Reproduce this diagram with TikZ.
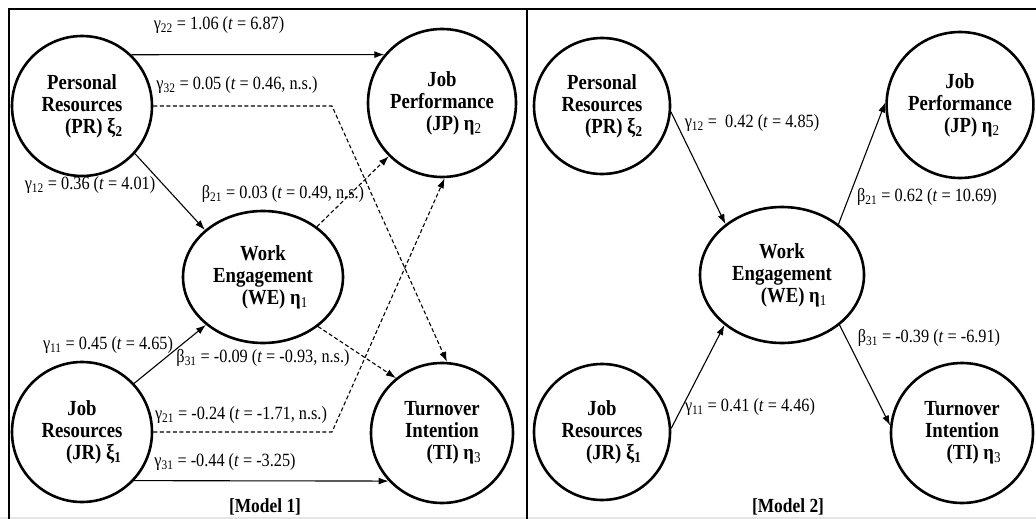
\documentclass[tikz,border=0pt]{standalone}
\usepackage{fontspec}
\setmainfont{Liberation Serif}[FakeStretch=0.87]
\usetikzlibrary{shapes.geometric,arrows.meta}
\tikzset{
  lat/.style={ellipse, draw, line width=2.6pt, inner sep=0pt, align=center,
    font=\bfseries\fontsize{21.5}{22}\selectfont},
  lab/.style={inner sep=0pt, font=\fontsize{18.7}{20}\selectfont},
  mlab/.style={inner sep=0pt, font=\bfseries\fontsize{20}{22}\selectfont},
  sarr/.style={line width=1.1pt, -{Latex[length=10pt,width=7pt]}},
  darr/.style={sarr, dash pattern=on 4pt off 2.5pt},
  frameline/.style={line width=1.6pt}
}
\newcommand{\tsub}[1]{\textsubscript{#1}}
\begin{document}
\begin{tikzpicture}[x=1pt,y=-1pt]
\fill[white] (0,0) rectangle (1036,519);
\useasboundingbox (0,0) rectangle (1036,519);
\fill[black!10] (0,517) rectangle (1036,519);
\draw[frameline] (9,519) -- (9,9) -- (1036,9);
\draw[frameline] (527,9) -- (527,519);

% ---------- Model 1 ----------
\node[lat, minimum width=140pt, minimum height=140pt] (PR) at (82,106)
  {Personal\\Resources\\\hspace*{1.1em}(PR) ξ\tsub{2}};
\node[lat, minimum width=148pt, minimum height=148pt] (JP) at (442,103)
  {Job\\Performance\\\hspace*{1.1em}(JP) η\tsub{\mdseries 2}};
\node[lat, minimum width=160pt, minimum height=132pt] (WE) at (263,277)
  {Work\\Engagement\\\hspace*{1.1em}(WE) η\tsub{\mdseries 1}};
\node[lat, minimum width=140pt, minimum height=140pt] (JR) at (82,432)
  {Job\\Resources\\\hspace*{1.1em}(JR) ξ\tsub{1}};
\node[lat, minimum width=142pt, minimum height=140pt] (TI) at (442,433)
  {Turnover\\Intention\\\hspace*{1.1em}(TI) η\tsub{\mdseries 3}};

\coordinate (k1) at (332,106);
\coordinate (k2) at (332,432);

\draw[sarr] (PR.46) -- (JP.140);
\draw[darr] (PR.east) -- (k1) -- (TI.86);
\draw[sarr] (PR.-42) -- (WE.141);
\draw[darr] (WE.43) -- (JP.225);
\draw[darr] (JR.east) -- (k2) -- (JP.-88);
\draw[sarr] (JR.43) -- (WE.220);
\draw[darr] (WE.-42) -- (TI.130);
\draw[sarr] (JR.-43) -- (TI.222);

\node[lab] (l1) at (219,25) {γ\tsub{22} = 1.06 (\textit{t} = 6.87)};
\node[lab] (l2) at (237,85) {γ\tsub{32} = 0.05 (\textit{t} = 0.46, n.s.)};
\node[lab] (l3) at (90,185) {γ\tsub{12} = 0.36 (\textit{t} = 4.01)};
\node[lab] (l4) at (283,194) {β\tsub{21} = 0.03 (\textit{t} = 0.49, n.s.)};
\node[lab] (l5) at (108,345) {γ\tsub{11} = 0.45 (\textit{t} = 4.65)};
\node[lab] (l6) at (263,358) {β\tsub{31} = -0.09 (\textit{t} = -0.93, n.s.)};
\node[lab] (l7) at (241,415) {γ\tsub{21} = -0.24 (\textit{t} = -1.71, n.s.)};
\node[lab] (l8) at (225,462) {γ\tsub{31} = -0.44 (\textit{t} = -3.25)};
\node[mlab] (m1) at (265,507) {[Model 1]};

% ---------- Model 2 ----------
\node[lat, minimum width=136pt, minimum height=136pt] (PRb) at (602,106)
  {Personal\\Resources\\\hspace*{1.1em}(PR) ξ\tsub{2}};
\node[lat, minimum width=146pt, minimum height=146pt] (JPb) at (960,105)
  {Job\\Performance\\\hspace*{1.1em}(JP) η\tsub{\mdseries 2}};
\node[lat, minimum width=164pt, minimum height=136pt] (WEb) at (782,275)
  {Work\\Engagement\\\hspace*{1.1em}(WE) η\tsub{\mdseries 1}};
\node[lat, minimum width=136pt, minimum height=136pt] (JRb) at (602,432)
  {Job\\Resources\\\hspace*{1.1em}(JR) ξ\tsub{1}};
\node[lat, minimum width=142pt, minimum height=140pt] (TIb) at (962,433)
  {Turnover\\Intention\\\hspace*{1.1em}(TI) η\tsub{\mdseries 3}};

\draw[sarr] (PRb.-5) -- (WEb.138);
\draw[sarr] (JRb.3) -- (WEb.221);
\draw[sarr] (WEb.42) -- (JPb.178);
\draw[sarr] (WEb.-41) -- (TIb.174);

\node[lab] (r1) at (752,123) {γ\tsub{12} = \ 0.42 (\textit{t} = 4.85)};
\node[lab] (r2) at (927,197) {β\tsub{21} = 0.62 (\textit{t} = 10.69)};
\node[lab] (r3) at (750,407) {γ\tsub{11} = 0.41 (\textit{t} = 4.46)};
\node[lab] (r4) at (929,338) {β\tsub{31} = -0.39 (\textit{t} = -6.91)};
\node[mlab] (m2) at (788,507) {[Model 2]};
\end{tikzpicture}
\end{document}
